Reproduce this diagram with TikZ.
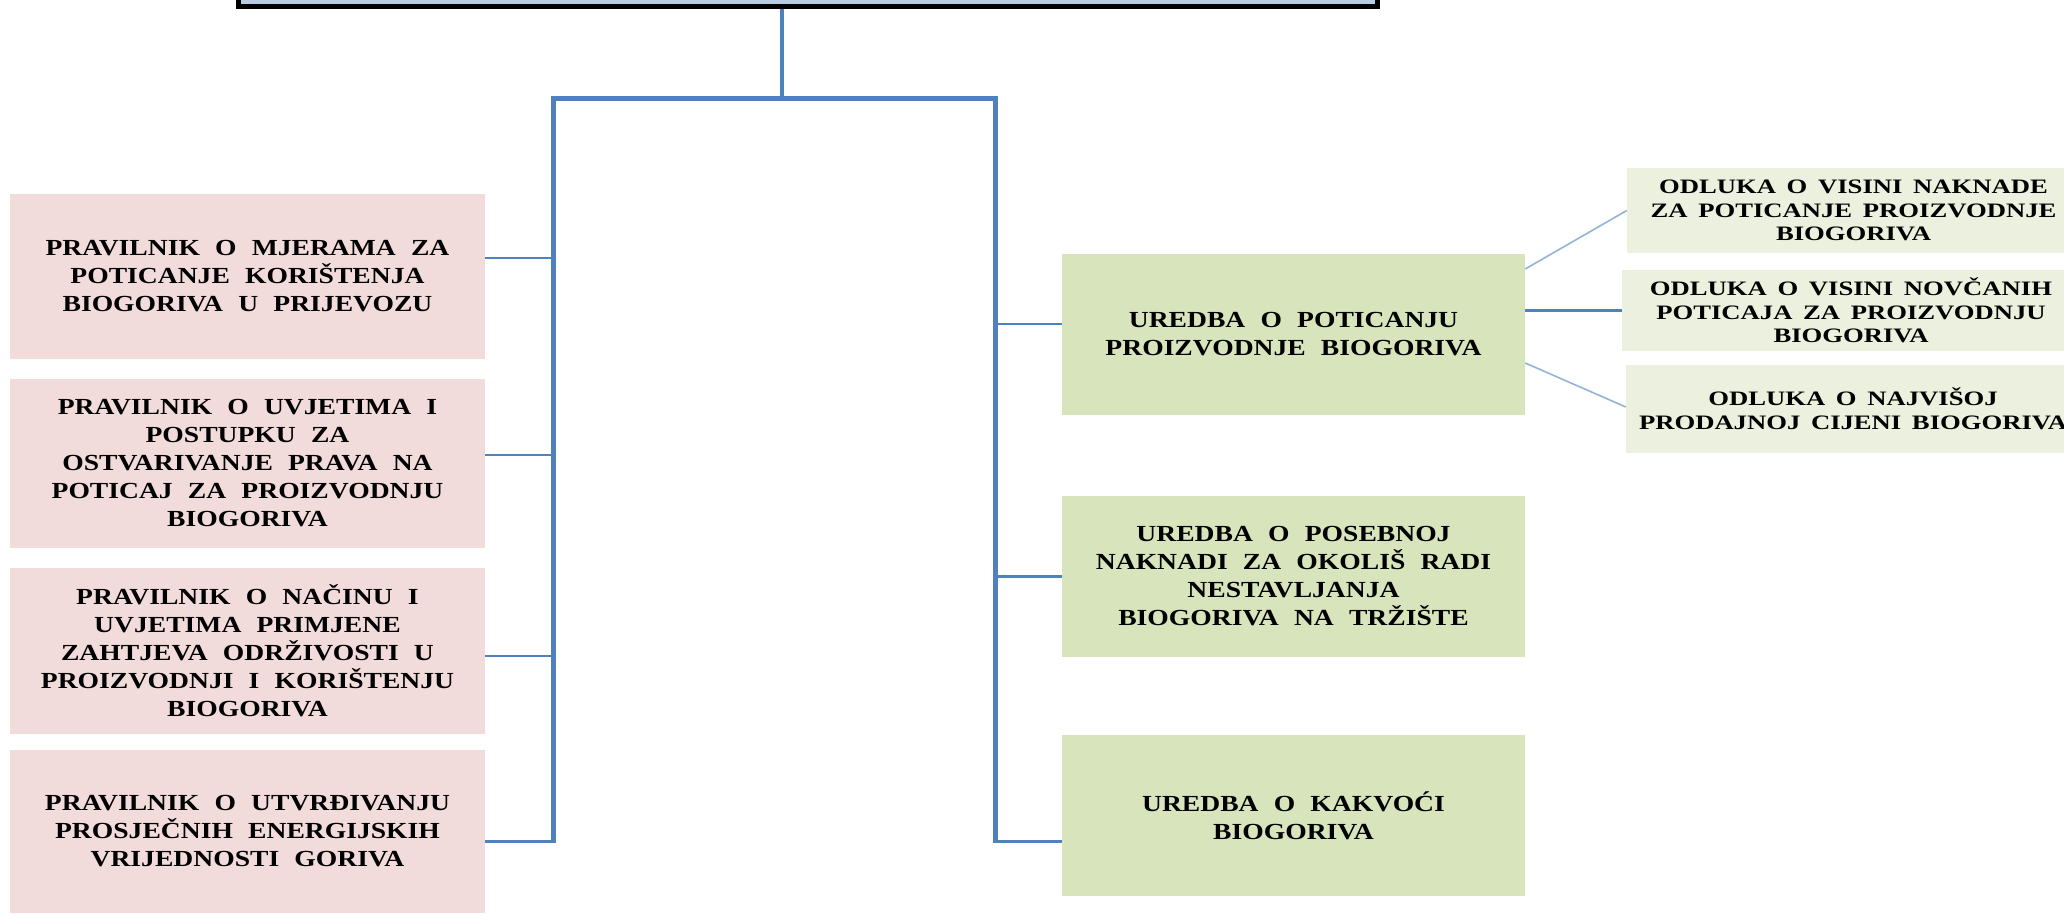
\documentclass[tikz,border=0pt]{standalone}
\usepackage{fontspec}
\setmainfont{Liberation Serif}
\newfontfamily\boxfont{Liberation Serif Bold}[FakeStretch=1.2,WordSpace=2.2]
\newfontfamily\smallboxfont{Liberation Serif Bold}[FakeStretch=1.3,WordSpace=1.6]
\definecolor{pinkfill}{HTML}{F2DCDB}
\definecolor{greenfill}{HTML}{D8E4BC}
\definecolor{palegreen}{HTML}{EBF1DE}
\definecolor{linkblue}{HTML}{4F81BD}
\definecolor{thinblue}{HTML}{95B3D7}
\definecolor{topfill}{HTML}{B8CCE4}
\tikzset{
  topbox/.style={draw=black,line width=5pt,fill=topfill,inner sep=0pt,minimum width=1139pt,minimum height=40pt},
  pinkbox/.style={fill=pinkfill,draw=none,inner sep=0pt,minimum width=475pt,align=center,text=black,font=\boxfont\fontsize{23}{28}\selectfont},
  greenbox/.style={fill=greenfill,draw=none,inner sep=0pt,minimum width=463pt,minimum height=161pt,align=center,text=black,font=\boxfont\fontsize{23}{28}\selectfont},
  odlukabox/.style={fill=palegreen,draw=none,inner sep=0pt,align=center,text=black,font=\smallboxfont\fontsize{20.5}{23.7}\selectfont},
  trunk/.style={draw=linkblue,line width=5pt,line join=miter},
  branch/.style={draw=linkblue,line width=2.8pt},
  thinlink/.style={draw=thinblue,line width=1.6pt}
}
\begin{document}
\begin{tikzpicture}[x=1pt,y=-1pt]
\useasboundingbox (0,0) rectangle (2064,913);
\clip (0,0) rectangle (2064,913);
\fill[white] (0,0) rectangle (2064,913);

% top box (mostly outside the picture)
\node[topbox] (top) at (807.5,-14) {};

% left boxes
\node[pinkbox,minimum height=165pt] (p1) at (247.5,276.5) {PRAVILNIK O MJERAMA ZA\\POTICANJE KORIŠTENJA\\BIOGORIVA U PRIJEVOZU};
\node[pinkbox,minimum height=169pt] (p2) at (247.5,463.5) {PRAVILNIK O UVJETIMA I\\POSTUPKU ZA\\OSTVARIVANJE PRAVA NA\\POTICAJ ZA PROIZVODNJU\\BIOGORIVA};
\node[pinkbox,minimum height=166pt] (p3) at (247.5,651) {PRAVILNIK O NAČINU I\\UVJETIMA PRIMJENE\\ZAHTJEVA ODRŽIVOSTI U\\PROIZVODNJI I KORIŠTENJU\\BIOGORIVA};
\node[pinkbox,minimum height=163pt] (p4) at (247.5,831.5) {PRAVILNIK O UTVRĐIVANJU\\PROSJEČNIH ENERGIJSKIH\\VRIJEDNOSTI GORIVA};

% right boxes
\node[greenbox] (g1) at (1293.5,334.5) {UREDBA O POTICANJU\\PROIZVODNJE BIOGORIVA};
\node[greenbox] (g2) at (1293.5,576.5) {UREDBA O POSEBNOJ\\NAKNADI ZA OKOLIŠ RADI\\NESTAVLJANJA\\BIOGORIVA NA TRŽIŠTE};
\node[greenbox] (g3) at (1293.5,815.5) {UREDBA O KAKVOĆI\\BIOGORIVA};

% decision boxes
\node[odlukabox,minimum width=453pt,minimum height=85pt] (o1) at (1853.5,210.5) {ODLUKA O VISINI NAKNADE\\ZA POTICANJE PROIZVODNJE\\BIOGORIVA};
\node[odlukabox,minimum width=458pt,minimum height=81pt] (o2) at (1851,310.5) {ODLUKA O VISINI NOVČANIH\\POTICAJA ZA PROIZVODNJU\\BIOGORIVA};
\node[odlukabox,minimum width=454pt,minimum height=88pt] (o3) at (1853,409) {ODLUKA O NAJVIŠOJ\\PRODAJNOJ CIJENI BIOGORIVA};

% trunk
\coordinate (hub) at (782,98);
\coordinate (busL) at (553,98);
\coordinate (busR) at (995.5,98);
\coordinate (endL) at (553,843);
\coordinate (endR) at (995.5,843);
\draw[trunk,line width=4.5pt] (top.south -| hub) -- (hub);
\draw[trunk] (endL) -- (busL) -- (busR) -- (endR);

% left branches
\draw[branch] ([yshift=18.5pt]p1.east) -- ([yshift=18.5pt]p1.east -| busL);
\draw[branch] ([yshift=8.5pt]p2.east) -- ([yshift=8.5pt]p2.east -| busL);
\draw[branch] ([yshift=-5pt]p3.east) -- ([yshift=-5pt]p3.east -| busL);
\draw[branch] ([yshift=-10pt]p4.east) -- ([yshift=-10pt]p4.east -| busL);

% right branches
\draw[branch] ([yshift=10.5pt]g1.west) -- ([yshift=10.5pt]g1.west -| busR);
\draw[branch] (g2.west) -- (g2.west -| busR);
\draw[branch] ([yshift=-26pt]g3.west) -- ([yshift=-26pt]g3.west -| busR);

% decision links
\draw[thinlink] ([yshift=65.5pt]g1.east) -- (o1.west);
\draw[branch] ([yshift=24pt]g1.east) -- (o2.west);
\draw[thinlink] ([yshift=-28.5pt]g1.east) -- ([yshift=2pt]o3.west);
\end{tikzpicture}
\end{document}
